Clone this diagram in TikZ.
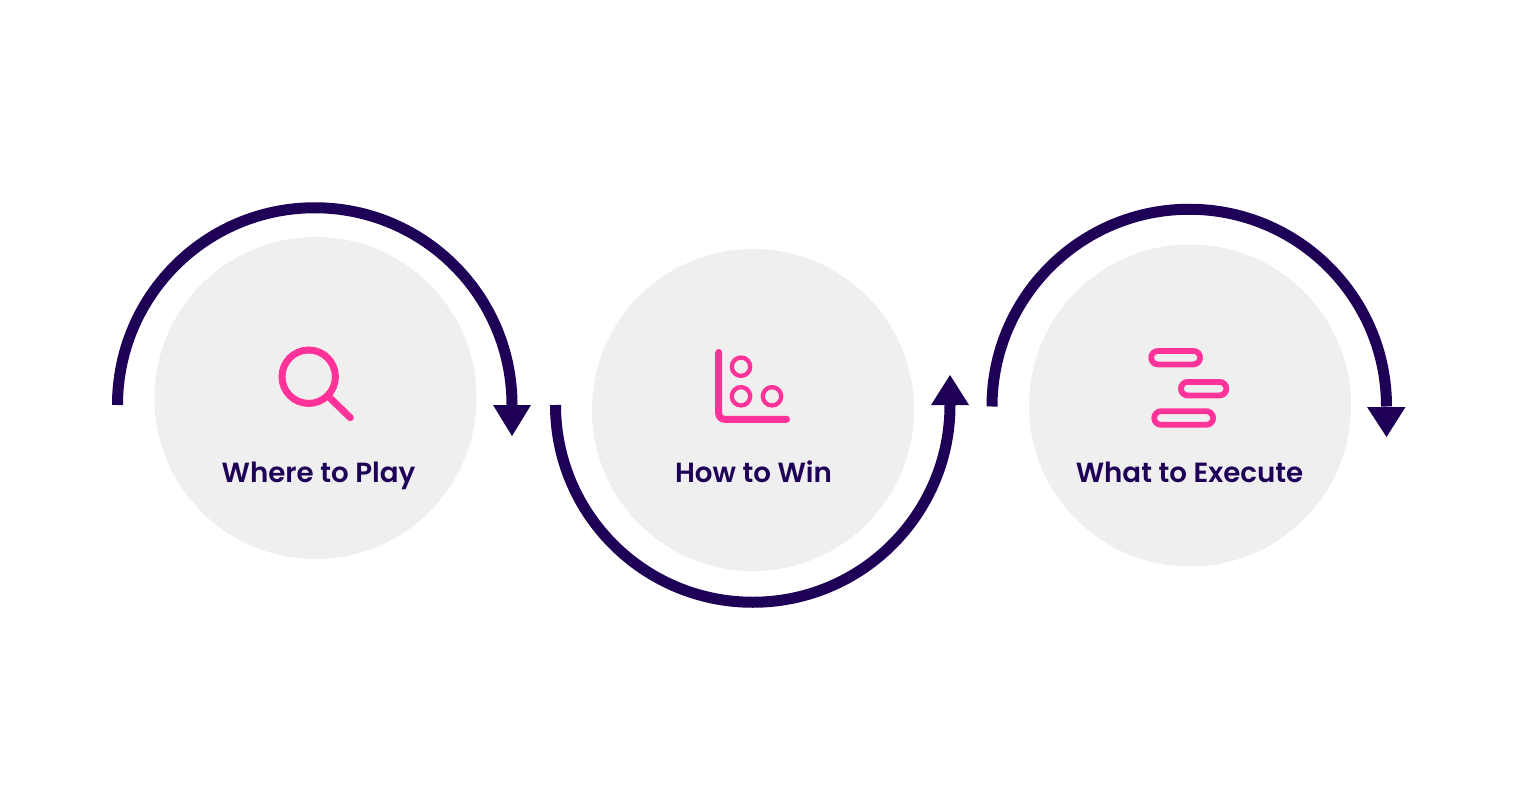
\documentclass[tikz,border=0pt]{standalone}
\usepackage{fontspec}
\setmainfont{Poppins}[UprightFont=* SemiBold]
\definecolor{navy}{HTML}{1F0057}
\definecolor{pinkc}{HTML}{FF3399}
\definecolor{disc}{HTML}{EFEFEF}
\tikzset{
  discnode/.style={circle,fill=disc,draw=none,minimum size=322pt,inner sep=0pt},
  sweep/.style={draw=navy,line width=11pt},
  tipshape/.style={fill=navy,draw=none},
  icon/.style={draw=pinkc,line width=7pt,line cap=round},
  ringicon/.style={draw=pinkc,line width=4.3pt,circle,minimum size=18.4pt,inner sep=0pt},
  barshape/.style={draw=pinkc,line width=5.8pt,rounded corners=6.8pt},
  caption/.style={text=navy,font=\fontsize{27.7pt}{30pt}\selectfont,anchor=base,inner sep=0pt},
}
\begin{document}
\begin{tikzpicture}[x=1pt,y=-1pt]
\useasboundingbox (0,0) rectangle (1515,806);
\fill[white] (0,0) rectangle (1515,806);
% discs
\node[discnode] (d1) at (315.5,398) {};
\node[discnode] (d2) at (753,410) {};
\node[discnode] (d3) at (1190,405.5) {};
% sweeping arcs
\coordinate (a1s) at (117.5,405);
\coordinate (a2s) at (555.5,405);
\coordinate (a3s) at (992,406.5);
\draw[sweep] (a1s) arc[start angle=180,end angle=360,radius=197.25];
\draw[sweep] (a2s) arc[start angle=180,end angle=0,radius=197.25];
\draw[sweep] (a3s) arc[start angle=180,end angle=360,radius=197.25];
% arrowheads
\fill[tipshape] (493,405) -- (531,405) -- (512,436) -- cycle;
\fill[tipshape] (931,405) -- (969,405) -- (950,375) -- cycle;
\fill[tipshape] (1367,407) -- (1405.5,407) -- (1386.5,437) -- cycle;
% magnifier
\node[circle,draw=pinkc,line width=7pt,minimum size=53.4pt,inner sep=0pt] (lens) at (308.7,376.7) {};
\coordinate (handle) at (350.3,417.7);
\draw[icon] (lens.-45) -- (handle);
% chart
\coordinate (axt) at (718.7,352.5);
\coordinate (axc) at (718.7,419.3);
\coordinate (axr) at (786.5,419.3);
\draw[icon,rounded corners=6pt] (axt) -- (axc) -- (axr);
\node[ringicon] (r1) at (741,366.7) {};
\node[ringicon] (r2) at (741,396.3) {};
\node[ringicon] (r3) at (772,396.3) {};
% bars
\draw[barshape] (1151.2,350.9) rectangle (1200.1,364.4);
\draw[barshape] (1180.9,381.9) rectangle (1226.4,395.4);
\draw[barshape] (1154.2,411.2) rectangle (1213.1,424.8);
% captions
\node[caption] (t1) at (318.5,482) {Where to Play};
\node[caption] (t2) at (753.5,482) {How to Win};
\node[caption] (t3) at (1189.5,482) {What to Execute};
\end{tikzpicture}
\end{document}
